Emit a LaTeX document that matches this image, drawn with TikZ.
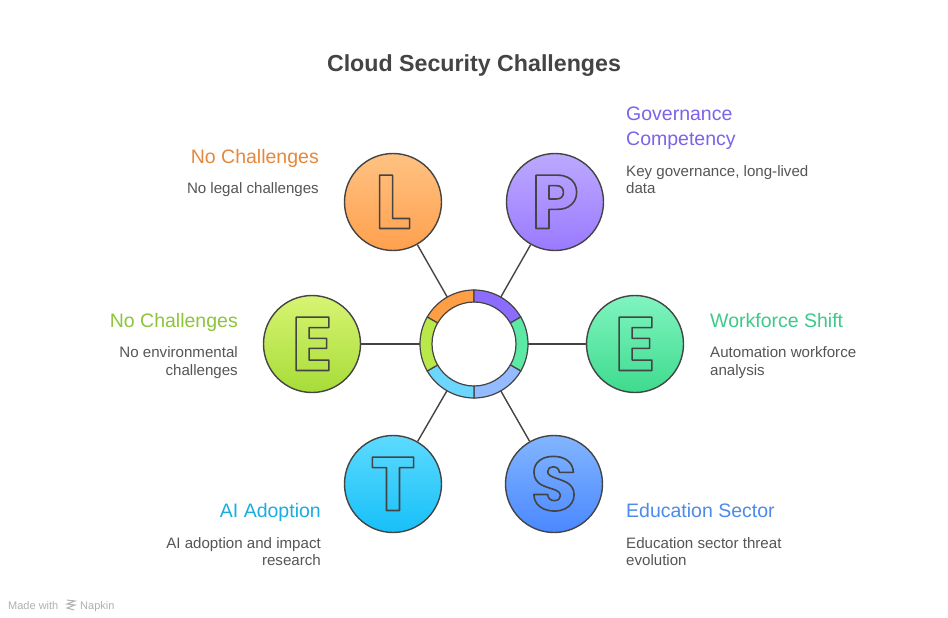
\documentclass[tikz,border=0pt]{standalone}
\usepackage{fontspec}
\setmainfont{Liberation Sans}
\newfontfamily\letfont{Poppins}
\definecolor{dk}{HTML}{444444}
\definecolor{titlec}{HTML}{444444}
\definecolor{txt}{HTML}{555555}
\definecolor{wm}{HTML}{B0B0B0}
% circle gradients
\definecolor{Lt}{HTML}{FFC282}\definecolor{Lb}{HTML}{FFA04E}
\definecolor{Pt}{HTML}{BCA9FF}\definecolor{Pb}{HTML}{9A7AFF}
\definecolor{Et}{HTML}{80F4C0}\definecolor{Eb}{HTML}{3EDB8E}
\definecolor{St}{HTML}{82B5FF}\definecolor{Sb}{HTML}{4A88FF}
\definecolor{Tt}{HTML}{5DDAFF}\definecolor{Tb}{HTML}{17C0F8}
\definecolor{Ft}{HTML}{D7F472}\definecolor{Fb}{HTML}{A7DC38}
% headings
\definecolor{hL}{HTML}{E6883A}
\definecolor{hP}{HTML}{7D62EA}
\definecolor{hE}{HTML}{3DC98A}
\definecolor{hS}{HTML}{4C8BE8}
\definecolor{hT}{HTML}{1AADE0}
\definecolor{hF}{HTML}{8DC43A}
% ring
\definecolor{rO}{HTML}{FF9F45}
\definecolor{rP}{HTML}{8C6BFF}
\definecolor{rG}{HTML}{5EE8A5}
\definecolor{rB}{HTML}{94BBFF}
\definecolor{rC}{HTML}{6CD6FF}
\definecolor{rL}{HTML}{B8E84A}
\newcommand{\outl}[1]{\special{pdf:literal direct 1 Tr 1.6 w 1 j 0.267 0.267 0.267 RG}#1\special{pdf:literal direct 0 Tr 0 j}}
\begin{document}
\begin{tikzpicture}[x=1pt,y=-1pt,
  bub/.style={circle, minimum size=97pt, inner sep=0pt, draw=dk, line width=1.4pt},
  lnk/.style={draw=dk, line width=1.4pt},
  hd/.style={font=\fontsize{19.5}{24}\selectfont, inner sep=0pt},
  ds/.style={font=\fontsize{15.1}{18}\selectfont, text=txt, inner sep=0pt},
  seg/.style={draw=dk, line width=1.2pt},
  letr/.style={font=\letfont\fontsize{76}{76}\selectfont\bfseries, inner sep=0pt, text=dk, anchor=base}
]
\useasboundingbox[fill=white] (0,0) rectangle (948,618);

\node[font=\fontsize{23.2}{28}\selectfont\bfseries, text=titlec, anchor=base, inner sep=0pt] (title) at (474,71.5) {Cloud Security Challenges};

\node[circle, minimum size=108pt, inner sep=0pt, outer sep=0pt] (hub) at (474,344) {};

\node[bub, top color=Lt, bottom color=Lb] (L) at (393,202) {};
\node[bub, top color=Pt, bottom color=Pb] (P) at (555,202) {};
\node[bub, top color=Et, bottom color=Eb] (E) at (635,344) {};
\node[bub, top color=St, bottom color=Sb] (S) at (554,484) {};
\node[bub, top color=Tt, bottom color=Tb] (T) at (393,484) {};
\node[bub, top color=Ft, bottom color=Fb] (F) at (312,344) {};

\foreach \n in {L,P,E,S,T,F} \draw[lnk] (hub) -- (\n);

\node[letr] (Lc) at ([yshift=-26.5pt]L.center) {\outl{L}};
\node[letr] (Pc) at ([yshift=-26.5pt]P.center) {\outl{P}};
\node[letr] (Ec) at ([yshift=-26.5pt]E.center) {\outl{E}};
\node[letr] (Sc) at ([yshift=-26.5pt]S.center) {\outl{S}};
\node[letr] (Tc) at ([yshift=-26.5pt]T.center) {\outl{T}};
\node[letr] (Fc) at ([yshift=-26.5pt]F.center) {\outl{E}};

\begin{scope}[shift={(474,344)}, y=1pt]
\foreach \a/\b/\c in {90/150/rO, 30/90/rP, -30/30/rG, -90/-30/rB, -150/-90/rC, 150/210/rL}
  \filldraw[seg, fill=\c] (\a:54) arc[start angle=\a, end angle=\b, radius=54] -- (\b:42) arc[start angle=\b, end angle=\a, radius=42] -- cycle;
\end{scope}

% L
\node[hd, text=hL, anchor=base east] (hL1) at (319,163) {No Challenges};
\node[ds, anchor=base east] (dL1) at (319,193.5) {No legal challenges};
% P
\node[hd, text=hP, anchor=base west] (hP1) at (626,121) {Governance};
\node[hd, text=hP, anchor=base west] (hP2) at (626,145) {Competency};
\node[ds, anchor=base west] (dP1) at (626,176) {Key governance, long-lived};
\node[ds, anchor=base west] (dP2) at (626,193.5) {data};
% E right
\node[hd, text=hE, anchor=base west] (hE1) at (710,327) {Workforce Shift};
\node[ds, anchor=base west] (dE1) at (710,357.5) {Automation workforce};
\node[ds, anchor=base west] (dE2) at (710,375.5) {analysis};
% S
\node[hd, text=hS, anchor=base west] (hS1) at (626,517) {Education Sector};
\node[ds, anchor=base west] (dS1) at (626,548.5) {Education sector threat};
\node[ds, anchor=base west] (dS2) at (626,565.5) {evolution};
% T
\node[hd, text=hT, anchor=base east] (hT1) at (321,517) {AI Adoption};
\node[ds, anchor=base east] (dT1) at (321,548.5) {AI adoption and impact};
\node[ds, anchor=base east] (dT2) at (321,565.5) {research};
% E left
\node[hd, text=hF, anchor=base east] (hF1) at (238,327) {No Challenges};
\node[ds, anchor=base east] (dF1) at (238,357.5) {No environmental};
\node[ds, anchor=base east] (dF2) at (238,375.5) {challenges};

% watermark
\node[font=\fontsize{11}{13}\selectfont, text=wm, anchor=base west, inner sep=0pt] (mw) at (8,609) {Made with};
\node[font=\fontsize{11}{13}\selectfont, text=wm, anchor=base west, inner sep=0pt] (nap) at (80,609) {Napkin};
\draw[wm, line width=1pt, line cap=round] (67,600) -- (75,601) -- (67,604) -- (75,605) -- (67,608) -- (74,610);
\end{tikzpicture}
\end{document}
